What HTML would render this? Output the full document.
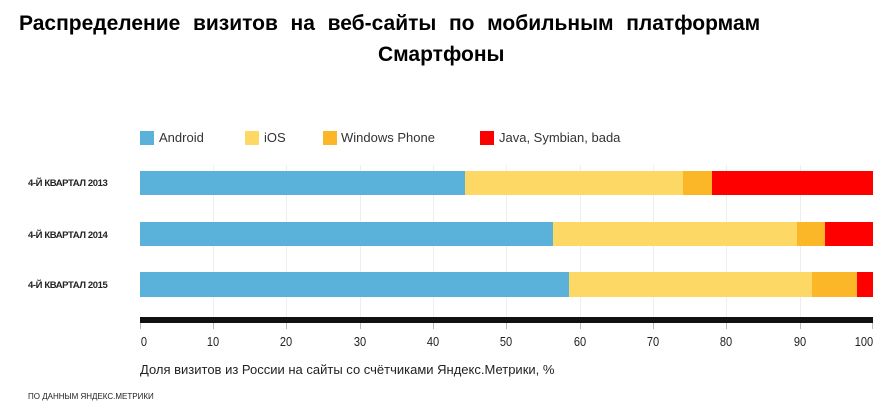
<!DOCTYPE html><html><head><meta charset="utf-8"><style>
body{margin:0;width:888px;height:418px;background:#fff;overflow:hidden;font-family:"Liberation Sans",sans-serif;position:relative}
.a{position:absolute}
.t{font-weight:bold;font-size:21px;color:#000;white-space:nowrap}
.lab{font-size:9.5px;font-weight:bold;color:#222;letter-spacing:-0.4px;left:28px}
.leg{font-size:13px;color:#333}
.sw{width:14px;height:14px}
.tk{font-size:13px;color:#222;width:30px;text-align:center;top:334px;transform:scaleX(0.85)}
</style></head><body>
<div class="a t" style="top:12px;left:19px;word-spacing:0.5px">Распределение&nbsp; визитов&nbsp; на&nbsp; веб-сайты&nbsp; по&nbsp; мобильным&nbsp; платформам</div>
<div class="a t" style="top:43px;left:378px">Смартфоны</div>
<div class="a sw" style="left:140px;top:131px;background:#5ab1d9"></div><div class="a leg" style="left:159px;top:130px">Android</div>
<div class="a sw" style="left:245px;top:131px;background:#fdd865"></div><div class="a leg" style="left:264px;top:130px">iOS</div>
<div class="a sw" style="left:323px;top:131px;background:#fbb727"></div><div class="a leg" style="left:341px;top:130px">Windows Phone</div>
<div class="a sw" style="left:480px;top:131px;background:#fe0000"></div><div class="a leg" style="left:499px;top:130px">Java, Symbian, bada</div>
<svg class="a" style="left:0;top:0" width="888" height="418">
<g stroke="#eee" stroke-width="1">
<line x1="213.5" y1="165" x2="213.5" y2="317"/><line x1="286.5" y1="165" x2="286.5" y2="317"/><line x1="360.5" y1="165" x2="360.5" y2="317"/><line x1="433.5" y1="165" x2="433.5" y2="317"/><line x1="506.5" y1="165" x2="506.5" y2="317"/><line x1="580.5" y1="165" x2="580.5" y2="317"/><line x1="653.5" y1="165" x2="653.5" y2="317"/><line x1="726.5" y1="165" x2="726.5" y2="317"/><line x1="800.5" y1="165" x2="800.5" y2="317"/>
</g>
<rect x="140" y="171" width="325" height="24" fill="#5ab1d9"/><rect x="465" y="171" width="218" height="24" fill="#fdd865"/><rect x="683" y="171" width="29" height="24" fill="#fbb727"/><rect x="712" y="171" width="161" height="24" fill="#fe0000"/>
<rect x="140" y="222" width="413" height="24" fill="#5ab1d9"/><rect x="553" y="222" width="244" height="24" fill="#fdd865"/><rect x="797" y="222" width="28" height="24" fill="#fbb727"/><rect x="825" y="222" width="48" height="24" fill="#fe0000"/>
<rect x="140" y="272" width="429" height="25" fill="#5ab1d9"/><rect x="569" y="272" width="243" height="25" fill="#fdd865"/><rect x="812" y="272" width="45" height="25" fill="#fbb727"/><rect x="857" y="272" width="16" height="25" fill="#fe0000"/>
<rect x="140" y="317" width="733" height="6" fill="#111"/>
<g stroke="#bbb"><line x1="140.5" y1="323" x2="140.5" y2="329"/><line x1="213.5" y1="323" x2="213.5" y2="329"/><line x1="286.5" y1="323" x2="286.5" y2="329"/><line x1="360.5" y1="323" x2="360.5" y2="329"/><line x1="433.5" y1="323" x2="433.5" y2="329"/><line x1="506.5" y1="323" x2="506.5" y2="329"/><line x1="580.5" y1="323" x2="580.5" y2="329"/><line x1="653.5" y1="323" x2="653.5" y2="329"/><line x1="726.5" y1="323" x2="726.5" y2="329"/><line x1="800.5" y1="323" x2="800.5" y2="329"/><line x1="872.5" y1="323" x2="872.5" y2="329"/></g>
</svg>
<div class="a lab" style="top:178px">4-Й КВАРТАЛ 2013</div>
<div class="a lab" style="top:230px">4-Й КВАРТАЛ 2014</div>
<div class="a lab" style="top:280px">4-Й КВАРТАЛ 2015</div>
<div class="a tk" style="left:129px">0</div><div class="a tk" style="left:198px">10</div><div class="a tk" style="left:271px">20</div><div class="a tk" style="left:345px">30</div><div class="a tk" style="left:418px">40</div><div class="a tk" style="left:491px">50</div><div class="a tk" style="left:565px">60</div><div class="a tk" style="left:638px">70</div><div class="a tk" style="left:711px">80</div><div class="a tk" style="left:785px">90</div><div class="a tk" style="left:849px">100</div>
<div class="a" style="left:140px;top:362px;font-size:13px;color:#222">Доля визитов из России на сайты со счётчиками Яндекс.Метрики, %</div>
<div class="a" style="left:28px;top:392px;font-size:8px;color:#222">ПО ДАННЫМ ЯНДЕКС.МЕТРИКИ</div>
</body></html>
